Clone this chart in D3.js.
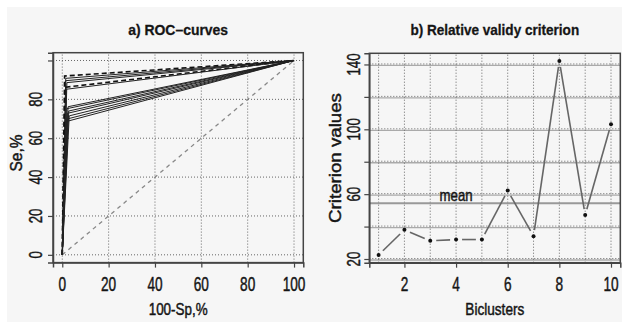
<!DOCTYPE html>
<html><head><meta charset="utf-8">
<script src="https://cdn.jsdelivr.net/npm/d3@7"></script>
<style>body{margin:0;background:#fff}svg{display:block}</style>
</head><body>
<script>
// ---- data ----
const rocKneeX = [1.0, 1.5, 1.5, 2.0, 1.2, 1.8, 2.5, 2.0, 2.8, 2.2, 3.0, 2.5, 1.8];
const rocKneeY = [92.0, 90.8, 89.6, 88.6, 86.2, 85.2, 76.2, 75.2, 74.0, 72.8, 71.5, 70.0, 68.6];
const rocDashed = [true, false, false, false, true, false, false, false, false, false, false, false, false];
const rocTicks = [0, 20, 40, 60, 80, 100];
const rocYLabels = [0, 20, 40, 60, 80];
const biclusters = [1, 2, 3, 4, 5, 6, 7, 8, 9, 10];
const criterion = [22.5, 38.0, 31.2, 32.0, 32.0, 62.2, 34.1, 142.1, 47.1, 103.1];
const critXTicks = [2, 4, 6, 8, 10];
const critYTicks = [20, 40, 60, 80, 100, 120, 140];
const critYLabels = [20, 60, 100, 140];

const W = 622, H = 322;
const svg = d3.select("body").append("svg").attr("width", W).attr("height", H);
svg.append("rect").attr("x", 7).attr("y", 7).attr("width", W - 7).attr("height", H - 7).attr("fill", "#f6f6f6");

const FONT = "'Liberation Sans', Arial, sans-serif";
const TICKSCALE = 0.7;

function fitText(sel, target) {
  const w = sel.node().getComputedTextLength();
  return target / w;
}
function styleText(t, size, bold) {
  t.attr("font-family", FONT).attr("font-size", size)
    .attr("font-weight", bold ? "bold" : "normal").attr("fill", "#151515")
    .attr("stroke", "#151515").attr("stroke-width", bold ? 0.3 : 0.45)
    .attr("text-anchor", "middle");
}
function hText(x, y, str, size, opts = {}) {
  const t = svg.append("text").text(str);
  styleText(t, size, opts.bold);
  const s = opts.width ? fitText(t, opts.width) : (opts.scale || 1);
  t.attr("transform", `translate(${x},${y}) scale(${s},1)`);
  return t;
}
function vText(x, y, str, size, opts = {}) {
  const t = svg.append("text").text(str);
  styleText(t, size, false);
  const s = opts.width ? fitText(t, opts.width) : (opts.scale || 1);
  t.attr("transform", `translate(${x},${y}) rotate(-90) scale(${s},1)`);
  return t;
}

// ---------- Panel a ----------
const L = { x0: 53, x1: 303.3, y0: 262.6, y1: 52.7 };
const xL = d3.scaleLinear().domain([-4, 104]).range([L.x0, L.x1]);
const yL = d3.scaleLinear().domain([-4, 104]).range([L.y0, L.y1]);
const gA = svg.append("g");

rocTicks.forEach(v => {
  gA.append("line").attr("x1", xL(v)).attr("x2", xL(v)).attr("y1", L.y0).attr("y2", L.y1)
    .attr("stroke", "#666").attr("stroke-width", 1).attr("stroke-dasharray", "1,2");
  gA.append("line").attr("y1", yL(v)).attr("y2", yL(v)).attr("x1", L.x0).attr("x2", L.x1)
    .attr("stroke", "#666").attr("stroke-width", 1).attr("stroke-dasharray", "1,2");
});
gA.append("line").attr("x1", xL(0)).attr("y1", yL(0)).attr("x2", xL(100)).attr("y2", yL(100))
  .attr("stroke", "#888").attr("stroke-width", 1.3).attr("stroke-dasharray", "4,4");
const rocLine = d3.line().x(d => xL(d[0])).y(d => yL(d[1]));
rocKneeX.forEach((kx, i) => {
  const pts = [[0, 0], [kx, rocKneeY[i]], [100, 100]];
  gA.append("path").attr("d", rocLine(pts)).attr("fill", "none")
    .attr("stroke", rocDashed[i] ? "#111" : "#222").attr("stroke-width", rocDashed[i] ? 1.6 : 1.0)
    .attr("stroke-dasharray", rocDashed[i] ? "5,3" : null);
});
gA.append("rect").attr("x", L.x0).attr("y", L.y1).attr("width", L.x1 - L.x0).attr("height", L.y0 - L.y1)
  .attr("fill", "none").attr("stroke", "#444").attr("stroke-width", 1.5);
const axBottomA = d3.axisBottom(xL).tickValues(rocTicks).tickSize(5).tickFormat("");
gA.append("g").attr("transform", `translate(0,${L.y0})`).call(axBottomA)
  .call(g => { g.select(".domain").attr("stroke", "#444").attr("stroke-width", 1.5); g.selectAll("line").attr("stroke", "#444").attr("stroke-width", 1.2); });
const axLeftA = d3.axisLeft(yL).tickValues(rocTicks).tickSize(5).tickFormat("");
gA.append("g").attr("transform", `translate(${L.x0},0)`).call(axLeftA)
  .call(g => { g.select(".domain").attr("stroke", "#444").attr("stroke-width", 1.5); g.selectAll("line").attr("stroke", "#444").attr("stroke-width", 1.2); });
rocTicks.forEach(v => hText(xL(v), 290.5, String(v), 19.5, { scale: TICKSCALE }));
rocYLabels.forEach(v => vText(41.5, yL(v), String(v), 19, { scale: TICKSCALE }));

hText((L.x0 + L.x1) / 2, 35, "a) ROC–curves", 15.5, { bold: true, width: 100 });
hText((L.x0 + L.x1) / 2, 315, "100-Sp,%", 16, { width: 59 });
vText(21.7, 153, "Se,%", 16, { width: 37 });

// ---------- Panel b ----------
const R = { x0: 369.3, x1: 620.3, y0: 262.7, y1: 53.3 };
const xR = d3.scaleLinear().domain([0.64, 10.36]).range([R.x0, R.x1]);
const ext = d3.extent(criterion);
const pad = (ext[1] - ext[0]) * 0.04;
const yR = d3.scaleLinear().domain([ext[0] - pad, ext[1] + pad]).range([R.y0, R.y1]);
const gB = svg.append("g");

critYTicks.forEach(v => {
  gB.append("line").attr("x1", R.x0).attr("x2", R.x1).attr("y1", yR(v) + 1).attr("y2", yR(v) + 1)
    .attr("stroke", "#aaa").attr("stroke-width", 1.3);
  gB.append("line").attr("x1", R.x0).attr("x2", R.x1).attr("y1", yR(v) - 0.5).attr("y2", yR(v) - 0.5)
    .attr("stroke", "#666").attr("stroke-width", 1).attr("stroke-dasharray", "1,2");
});
biclusters.forEach(v => {
  gB.append("line").attr("x1", xR(v)).attr("x2", xR(v)).attr("y1", R.y0).attr("y2", R.y1)
    .attr("stroke", "#666").attr("stroke-width", 1).attr("stroke-dasharray", "1,2");
});
const mean = d3.mean(criterion);
gB.append("line").attr("x1", R.x0).attr("x2", R.x1).attr("y1", yR(mean)).attr("y2", yR(mean))
  .attr("stroke", "#999").attr("stroke-width", 2);
hText(xR(4), yR(mean) - 2.5, "mean", 16, { width: 33 });

const GAP = 6;
for (let i = 0; i < criterion.length - 1; i++) {
  const ax = xR(biclusters[i]), ay = yR(criterion[i]);
  const bx = xR(biclusters[i + 1]), by = yR(criterion[i + 1]);
  const dx = bx - ax, dy = by - ay, len = Math.hypot(dx, dy);
  if (len <= 2 * GAP) continue;
  const ux = dx / len, uy = dy / len;
  gB.append("line").attr("x1", ax + ux * GAP).attr("y1", ay + uy * GAP)
    .attr("x2", bx - ux * GAP).attr("y2", by - uy * GAP)
    .attr("stroke", "#666").attr("stroke-width", 1.6);
}
gB.selectAll("circle.pt").data(criterion).join("circle").attr("class", "pt")
  .attr("cx", (d, i) => xR(biclusters[i])).attr("cy", d => yR(d)).attr("r", 2).attr("fill", "#111");

gB.append("rect").attr("x", R.x0).attr("y", R.y1).attr("width", R.x1 - R.x0).attr("height", R.y0 - R.y1)
  .attr("fill", "none").attr("stroke", "#444").attr("stroke-width", 1.5);
const axBottomB = d3.axisBottom(xR).tickValues(critXTicks).tickSize(5).tickFormat("");
gB.append("g").attr("transform", `translate(0,${R.y0})`).call(axBottomB)
  .call(g => { g.select(".domain").attr("stroke", "#444").attr("stroke-width", 1.5); g.selectAll("line").attr("stroke", "#444").attr("stroke-width", 1.2); });
const axLeftB = d3.axisLeft(yR).tickValues(critYTicks).tickSize(5).tickFormat("");
gB.append("g").attr("transform", `translate(${R.x0},0)`).call(axLeftB)
  .call(g => { g.select(".domain").attr("stroke", "#444").attr("stroke-width", 1.5); g.selectAll("line").attr("stroke", "#444").attr("stroke-width", 1.2); });
critXTicks.forEach(v => hText(xR(v), 290.5, String(v), 19.5, { scale: TICKSCALE }));
critYLabels.forEach(v => vText(360, yR(v), String(v), 19, { scale: TICKSCALE }));

hText((R.x0 + R.x1) / 2, 35, "b) Relative validy criterion", 15.5, { bold: true, width: 169 });
hText((R.x0 + R.x1) / 2, 315, "Biclusters", 16, { width: 59 });
vText(341, 158, "Criterion values", 17, { width: 130 });
</script>
</body></html>
